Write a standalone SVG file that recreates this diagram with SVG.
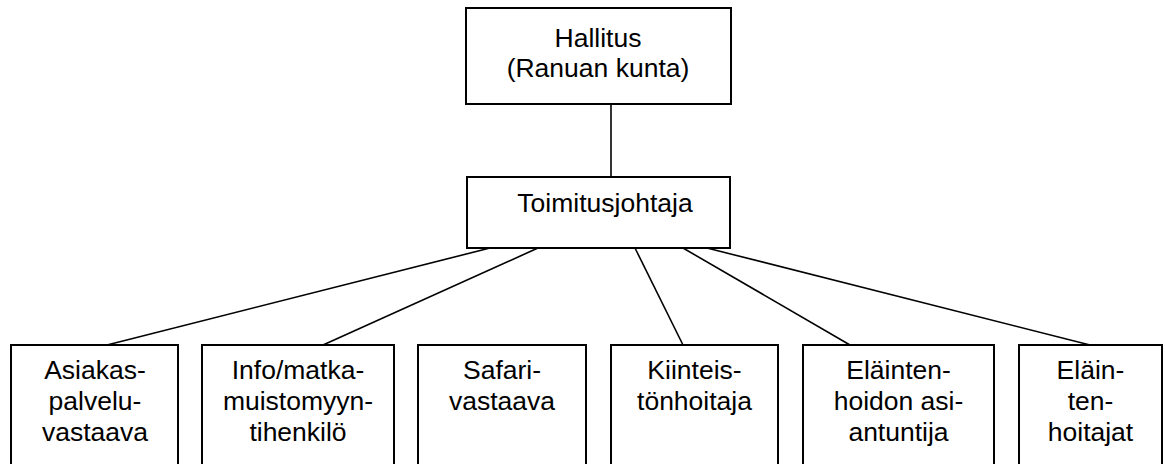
<svg xmlns="http://www.w3.org/2000/svg" width="1165" height="464" viewBox="0 0 1165 464">
<style>
.box{fill:#fff;stroke:#000;stroke-width:2}
.t{font-family:"Liberation Sans",Arial,sans-serif;font-size:26.5px;fill:#000;text-anchor:middle}
.c{stroke:#000;stroke-width:1.6;fill:none}
</style>
<rect width="1165" height="464" fill="#fff"/>
<g id="connectors">
<line class="c" x1="611" y1="104" x2="611" y2="177"/>
<line class="c" x1="490" y1="248" x2="107" y2="345"/>
<line class="c" x1="538" y1="248" x2="323" y2="345"/>
<line class="c" x1="635" y1="248" x2="683" y2="345"/>
<line class="c" x1="683" y1="248" x2="850" y2="345"/>
<line class="c" x1="707" y1="248" x2="1090" y2="345"/>
</g>
<g id="hallitus">
<rect class="box" x="466" y="8" width="265" height="96"/>
<text class="t" x="598" y="47">Hallitus</text>
<text class="t" x="598" y="77">(Ranuan kunta)</text>
</g>
<g id="toimitusjohtaja">
<rect class="box" x="467" y="177" width="263" height="71"/>
<text class="t" x="605" y="212">Toimitusjohtaja</text>
</g>
<g id="asiakaspalveluvastaava">
<rect class="box" x="11" y="345" width="167" height="130"/>
<text class="t" x="95" y="379">Asiakas-</text>
<text class="t" x="95" y="410">palvelu-</text>
<text class="t" x="95" y="441">vastaava</text>
</g>
<g id="info">
<rect class="box" x="202" y="345" width="192" height="130"/>
<text class="t" x="298" y="379">Info/matka-</text>
<text class="t" x="298" y="410">muistomyyn-</text>
<text class="t" x="298" y="441">tihenkilö</text>
</g>
<g id="safari">
<rect class="box" x="418" y="345" width="168" height="130"/>
<text class="t" x="502" y="379">Safari-</text>
<text class="t" x="502" y="410">vastaava</text>
</g>
<g id="kiinteisto">
<rect class="box" x="611" y="345" width="167" height="130"/>
<text class="t" x="694.5" y="379">Kiinteis-</text>
<text class="t" x="694.5" y="410">tönhoitaja</text>
</g>
<g id="elainhoito-asiantuntija">
<rect class="box" x="803" y="345" width="191" height="130"/>
<text class="t" x="898.5" y="379">Eläinten-</text>
<text class="t" x="898.5" y="410">hoidon asi-</text>
<text class="t" x="898.5" y="441">antuntija</text>
</g>
<g id="elaintenhoitajat">
<rect class="box" x="1019" y="345" width="143" height="130"/>
<text class="t" x="1090.5" y="379">Eläin-</text>
<text class="t" x="1090.5" y="410">ten-</text>
<text class="t" x="1090.5" y="441">hoitajat</text>
</g>
</svg>
